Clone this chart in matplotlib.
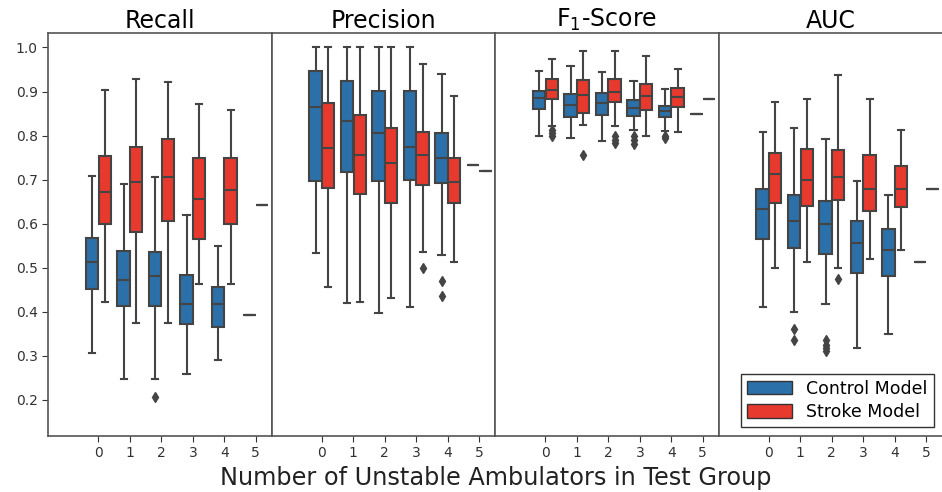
import matplotlib.pyplot as plt
from matplotlib.patches import Patch

# groups on the x axis (number of unstable ambulators in test group)
groups = [0, 1, 2, 3, 4, 5]
titles = ["Recall", "Precision", "F$_1$-Score", "AUC"]
models = ["Control Model", "Stroke Model"]
colors = ["#2b70a8", "#e8392e"]

# box summaries per group: (whisker low, q1, median, q3, whisker high)
recall_control = [(0.306, 0.452, 0.513, 0.568, 0.709), (0.248, 0.412, 0.473, 0.537, 0.690),
                  (0.248, 0.414, 0.482, 0.535, 0.705), (0.258, 0.373, 0.418, 0.484, 0.619),
                  (0.291, 0.365, 0.418, 0.456, 0.550), (0.392, 0.392, 0.392, 0.392, 0.392)]
recall_stroke = [(0.423, 0.599, 0.672, 0.753, 0.904), (0.374, 0.582, 0.694, 0.775, 0.928),
                 (0.374, 0.607, 0.707, 0.792, 0.921), (0.463, 0.566, 0.656, 0.749, 0.871),
                 (0.463, 0.600, 0.677, 0.749, 0.857), (0.642, 0.642, 0.642, 0.642, 0.642)]
recall_control_fliers = [[], [], [0.206], [], [], []]
recall_stroke_fliers = [[], [], [], [], [], []]

precision_control = [(0.533, 0.696, 0.866, 0.947, 1.0), (0.420, 0.718, 0.834, 0.923, 1.0),
                     (0.398, 0.697, 0.806, 0.902, 1.0), (0.410, 0.700, 0.774, 0.902, 1.0),
                     (0.529, 0.693, 0.749, 0.806, 0.940), (0.734, 0.734, 0.734, 0.734, 0.734)]
precision_stroke = [(0.456, 0.681, 0.772, 0.874, 1.0), (0.423, 0.667, 0.755, 0.846, 1.0),
                    (0.431, 0.647, 0.738, 0.817, 1.0), (0.535, 0.688, 0.755, 0.807, 0.963),
                    (0.514, 0.648, 0.695, 0.749, 0.889), (0.720, 0.720, 0.720, 0.720, 0.720)]
precision_control_fliers = [[], [], [], [], [0.469, 0.436], []]
precision_stroke_fliers = [[], [], [], [0.499], [], []]

f1_control = [(0.800, 0.860, 0.885, 0.902, 0.946), (0.794, 0.842, 0.870, 0.894, 0.957),
              (0.788, 0.846, 0.874, 0.896, 0.944), (0.812, 0.845, 0.862, 0.881, 0.923),
              (0.810, 0.842, 0.855, 0.868, 0.906), (0.849, 0.849, 0.849, 0.849, 0.849)]
f1_stroke = [(0.822, 0.883, 0.904, 0.928, 0.974), (0.824, 0.851, 0.893, 0.927, 0.991),
             (0.821, 0.877, 0.900, 0.928, 0.992), (0.800, 0.857, 0.889, 0.917, 0.981),
             (0.807, 0.864, 0.887, 0.908, 0.952), (0.884, 0.884, 0.884, 0.884, 0.884)]
f1_control_fliers = [[], [], [], [0.800, 0.790, 0.780], [0.800, 0.795], []]
f1_stroke_fliers = [[0.812, 0.805, 0.798], [0.756], [0.798, 0.790, 0.782], [], [], []]

auc_control = [(0.410, 0.565, 0.633, 0.679, 0.807), (0.399, 0.545, 0.605, 0.666, 0.817),
               (0.418, 0.532, 0.600, 0.652, 0.792), (0.317, 0.488, 0.556, 0.605, 0.697),
               (0.349, 0.482, 0.541, 0.588, 0.666), (0.512, 0.512, 0.512, 0.512, 0.512)]
auc_stroke = [(0.499, 0.647, 0.712, 0.760, 0.877), (0.512, 0.639, 0.700, 0.769, 0.884),
              (0.499, 0.653, 0.707, 0.768, 0.938), (0.520, 0.629, 0.678, 0.756, 0.884),
              (0.541, 0.638, 0.678, 0.731, 0.813), (0.679, 0.679, 0.679, 0.679, 0.679)]
auc_control_fliers = [[], [0.360, 0.335], [0.335, 0.325, 0.318, 0.310], [], [], []]
auc_stroke_fliers = [[], [], [0.474], [], [], []]

panels = [
    (recall_control, recall_control_fliers, recall_stroke, recall_stroke_fliers),
    (precision_control, precision_control_fliers, precision_stroke, precision_stroke_fliers),
    (f1_control, f1_control_fliers, f1_stroke, f1_stroke_fliers),
    (auc_control, auc_control_fliers, auc_stroke, auc_stroke_fliers),
]

line_col = "#444444"
fig, axes = plt.subplots(1, 4, figsize=(9.42, 4.92), dpi=100, sharey=True)
fig.subplots_adjust(left=0.051, right=1.0, top=0.933, bottom=0.114, wspace=0)


def make_stats(summ, fliers):
    out = []
    for (lo, q1, med, q3, hi), fl in zip(summ, fliers):
        out.append(dict(whislo=lo, q1=q1, med=med, q3=q3, whishi=hi, fliers=fl))
    return out


for ax, title, (c_sum, c_fl, s_sum, s_fl) in zip(axes, titles, panels):
    for k, (summ, fl) in enumerate([(c_sum, c_fl), (s_sum, s_fl)]):
        offset = -0.2 if k == 0 else 0.2
        pos = [g + offset for g in groups]
        ax.bxp(make_stats(summ, fl), positions=pos, widths=0.39, patch_artist=True,
               boxprops=dict(facecolor=colors[k], edgecolor=line_col, linewidth=1.5),
               medianprops=dict(color=line_col, linewidth=1.5),
               whiskerprops=dict(color=line_col, linewidth=1.5),
               capprops=dict(color=line_col, linewidth=1.5),
               flierprops=dict(marker="d", markerfacecolor=line_col, markeredgecolor=line_col,
                               markersize=5))
    ax.set_xlim(-1.6, 5.5)
    ax.set_ylim(0.118, 1.033)
    ax.set_xticks(groups)
    ax.set_xticklabels([str(g) for g in groups])
    ax.set_title(title, fontsize=17, pad=1)
    ax.tick_params(axis="both", labelsize=10, colors="#333333", length=4)
    for sp in ax.spines.values():
        sp.set_color("#555555")
        sp.set_linewidth(1.2)

axes[0].set_yticks([0.2, 0.3, 0.4, 0.5, 0.6, 0.7, 0.8, 0.9, 1.0])
for ax in axes[1:]:
    ax.tick_params(axis="y", left=False, labelleft=False)
axes[-1].spines["right"].set_visible(False)

handles = [Patch(facecolor=colors[i], edgecolor="#333333", label=models[i]) for i in range(2)]
axes[-1].legend(handles=handles, loc="lower right", bbox_to_anchor=(0.962, 0.022),
                borderaxespad=0, fontsize=12.5, frameon=True, fancybox=False,
                framealpha=1, edgecolor="#333333", handlelength=2.6, handleheight=0.8,
                borderpad=0.35, labelspacing=0.3)

fig.text(0.526, 0.028, "Number of Unstable Ambulators in Test Group", ha="center",
         va="center", fontsize=17.3, color="#222222")

plt.savefig("out.png")
